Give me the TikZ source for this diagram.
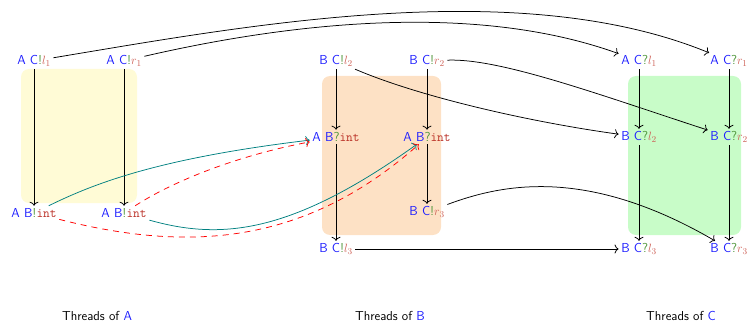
\documentclass[tikz,border=0pt]{standalone}
\usetikzlibrary{arrows.meta}
\definecolor{bangc}{RGB}{80,150,60}
\definecolor{varc}{RGB}{205,95,85}
\definecolor{intc}{RGB}{185,45,35}
\definecolor{boxA}{RGB}{255,251,214}
\definecolor{boxB}{RGB}{253,225,197}
\definecolor{boxC}{RGB}{200,252,200}
\definecolor{chanc}{RGB}{30,30,255}
\newcommand{\ch}[1]{\textcolor{chanc}{#1}}
\newcommand{\snd}{\textcolor{bangc}{!}}
\newcommand{\rcv}{\textcolor{bangc}{?}}
\newcommand{\lv}[1]{\textcolor{varc}{$#1$}}
\newcommand{\intt}{\textcolor{intc}{\texttt{int}}}
\tikzset{
  lbl/.style={inner sep=2.5pt, font=\sffamily\fontsize{13}{15}\selectfont},
  arr/.style={-{To[length=4pt,width=9pt]}, line width=0.75pt},
  tealarr/.style={arr, teal},
  redarr/.style={arr, red, dash pattern=on 6pt off 5pt},
  threadbox/.style={rounded corners=8pt},
}
\begin{document}
\begin{tikzpicture}[x=1pt,y=-1pt]
\useasboundingbox (0,0) rectangle (749,323);
% boxes
\fill[boxA, threadbox] (21,69) rectangle (137,203);
\fill[boxB, threadbox] (322,76) rectangle (441,235);
\fill[boxC, threadbox] (628,76) rectangle (741,235);
% A
\node[lbl] (acl1) at (34,61) {\ch{A} \ch{C}\snd\lv{l_1}};
\node[lbl] (acr1) at (124,61) {\ch{A} \ch{C}\snd\lv{r_1}};
\node[lbl] (abl) at (34,213) {\ch{A} \ch{B}\snd\intt};
\node[lbl] (abr) at (124,213) {\ch{A} \ch{B}\snd\intt};
% B
\node[lbl] (bcl2) at (336,61) {\ch{B} \ch{C}\snd\lv{l_2}};
\node[lbl] (bcr2) at (427,61) {\ch{B} \ch{C}\snd\lv{r_2}};
\node[lbl] (abql) at (336,137) {\ch{A} \ch{B}\rcv\intt};
\node[lbl] (abqr) at (427,137) {\ch{A} \ch{B}\rcv\intt};
\node[lbl] (bcr3) at (427,212) {\ch{B} \ch{C}\snd\lv{r_3}};
\node[lbl] (bcl3) at (336,249) {\ch{B} \ch{C}\snd\lv{l_3}};
% C
\node[lbl] (acql1) at (639,61) {\ch{A} \ch{C}\rcv\lv{l_1}};
\node[lbl] (acqr1) at (729,61) {\ch{A} \ch{C}\rcv\lv{r_1}};
\node[lbl] (bcql2) at (639,137) {\ch{B} \ch{C}\rcv\lv{l_2}};
\node[lbl] (bcqr2) at (729,137) {\ch{B} \ch{C}\rcv\lv{r_2}};
\node[lbl] (bcql3) at (639,249) {\ch{B} \ch{C}\rcv\lv{l_3}};
\node[lbl] (bcqr3) at (729,249) {\ch{B} \ch{C}\rcv\lv{r_3}};
% titles
\node[lbl] (ta) at (97,316) {Threads of \ch{A}};
\node[lbl] (tb) at (390,316) {Threads of \ch{B}};
\node[lbl] (tc) at (681,316) {Threads of \ch{C}};
% vertical arrows
\draw[arr] (acl1) -- (abl);
\draw[arr] (acr1) -- (abr);
\draw[arr] (bcl2) -- (abql);
\draw[arr] (bcr2) -- (abqr);
\draw[arr] (abql) -- (bcl3);
\draw[arr] (abqr) -- (bcr3);
\draw[arr] (acql1) -- (bcql2);
\draw[arr] (acqr1) -- (bcqr2);
\draw[arr] (bcql2) -- (bcql3);
\draw[arr] (bcqr2) -- (bcqr3);
% long connectors
\draw[arr] (acl1) .. controls (250,25) and (520,-25) .. (acqr1);
\draw[arr] (acr1) .. controls (280,25) and (470,0) .. (acql1);
\draw[arr] (bcl2) .. controls (420,97) and (530,122) .. (bcql2);
\draw[arr] (bcr2) .. controls (500,58) and (600,95) .. (bcqr2);
\draw[arr] (bcr3) .. controls (500,185) and (585,165) .. (bcqr3);
\draw[arr] (bcl3) -- (bcql3);
% channel AB
\draw[tealarr] (abl) .. controls (95,183) and (160,158) .. (abql);
\draw[tealarr] (abr) .. controls (220,240) and (290,235) .. (abqr);
\draw[redarr] (abl) .. controls (180,250) and (300,250) .. (abqr);
\draw[redarr] (abr) .. controls (175,180) and (240,155) .. (abql);
\end{tikzpicture}
\end{document}
